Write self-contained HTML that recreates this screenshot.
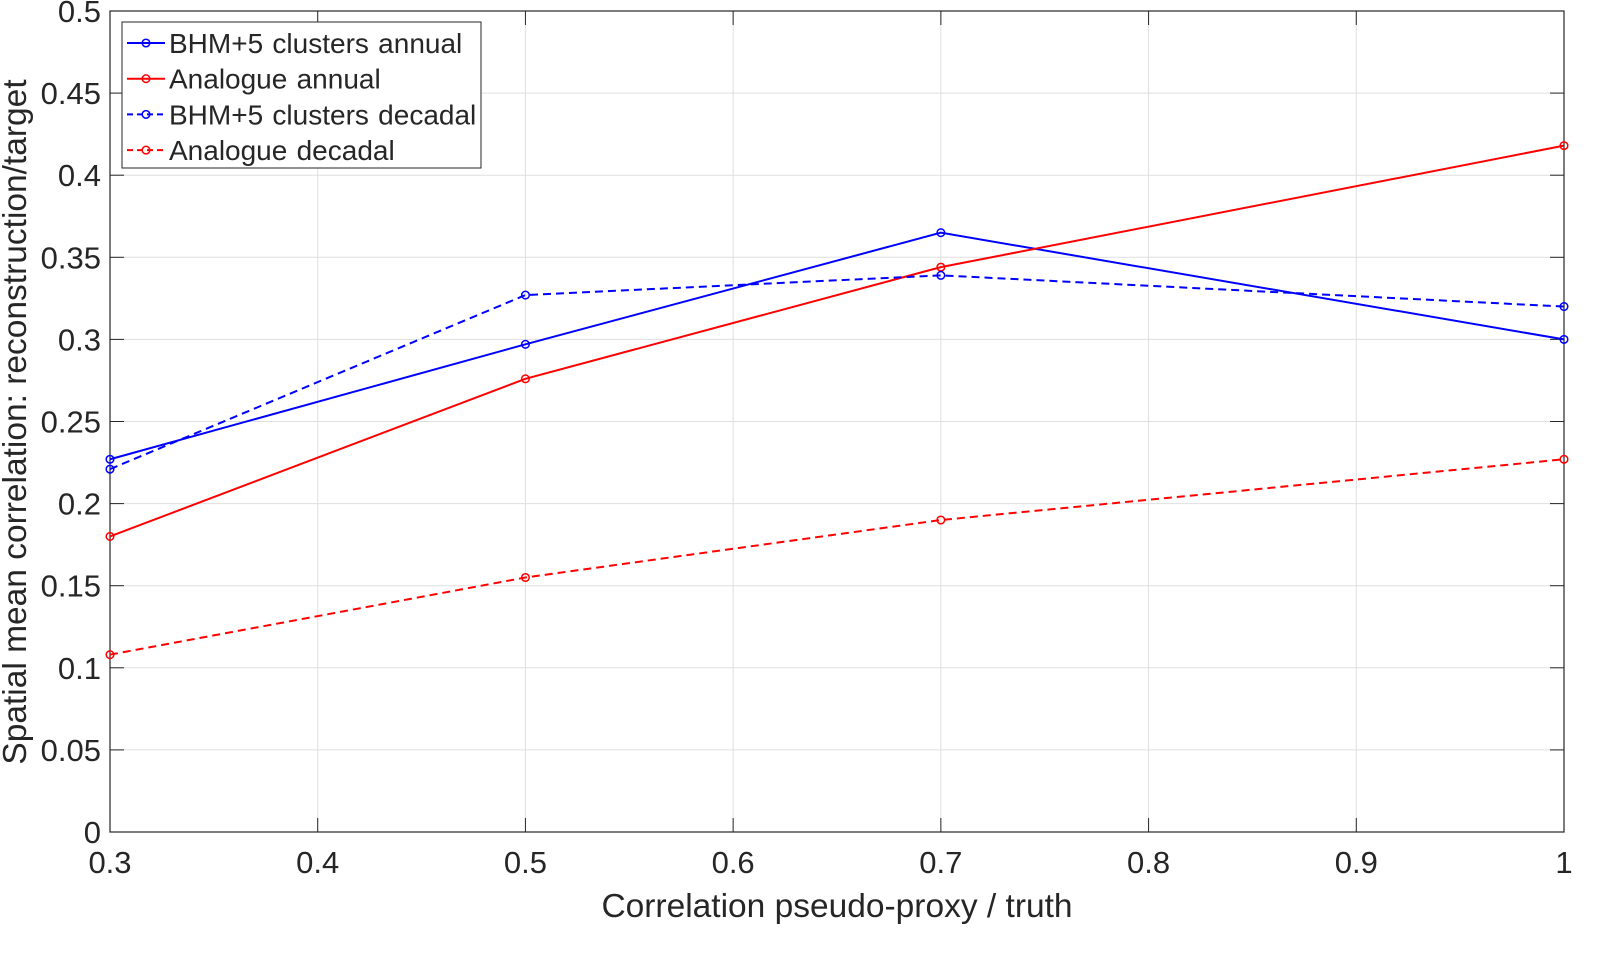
<!DOCTYPE html>
<html><head><meta charset="utf-8"><style>
body{margin:0;background:#fff}
svg text{font-family:"Liberation Sans",Arial,sans-serif;fill:#262626}
</style></head><body>
<svg id="c" width="1608" height="948" xmlns="http://www.w3.org/2000/svg"></svg>
<script>
const xValues=[0.3,0.5,0.7,1.0];
const bhmAnnual=[0.227,0.297,0.365,0.300];
const analogueAnnual=[0.180,0.276,0.344,0.418];
const bhmDecadal=[0.221,0.327,0.339,0.320];
const analogueDecadal=[0.108,0.155,0.190,0.227];
const xTicks=[0.3,0.4,0.5,0.6,0.7,0.8,0.9,1];
const xTickLabels=["0.3","0.4","0.5","0.6","0.7","0.8","0.9","1"];
const yTicks=[0,0.05,0.1,0.15,0.2,0.25,0.3,0.35,0.4,0.45,0.5];
const yTickLabels=["0","0.05","0.1","0.15","0.2","0.25","0.3","0.35","0.4","0.45","0.5"];
const seriesNames=["BHM+5 clusters annual","Analogue annual","BHM+5 clusters decadal","Analogue decadal"];

const L=110,R=1564,T=11,B=832;
const sx=v=>L+(v-0.3)/0.7*(R-L);
const sy=v=>B-v/0.5*(B-T);
const svg=document.getElementById('c');
const NS='http://www.w3.org/2000/svg';
function mk(tag,attrs,parent){const e=document.createElementNS(NS,tag);for(const k in attrs)e.setAttribute(k,attrs[k]);(parent||svg).appendChild(e);return e;}

const grid=mk('g',{});


xTicks.forEach((t,i)=>{
  mk('line',{x1:sx(t),x2:sx(t),y1:T,y2:B,stroke:'#dfdfdf','stroke-width':1},grid);
  mk('line',{x1:sx(t),x2:sx(t),y1:B,y2:B-14,stroke:'#262626','stroke-width':1},grid);
  mk('line',{x1:sx(t),x2:sx(t),y1:T,y2:T+14,stroke:'#262626','stroke-width':1},grid);
  const tx=mk('text',{x:sx(t),y:873,'font-size':31,'text-anchor':'middle'});
  
  
  tx.textContent=xTickLabels[i];
});
yTicks.forEach((t,i)=>{
  mk('line',{x1:L,x2:R,y1:sy(t),y2:sy(t),stroke:'#dfdfdf','stroke-width':1},grid);
  mk('line',{x1:L,x2:L+14,y1:sy(t),y2:sy(t),stroke:'#262626','stroke-width':1},grid);
  mk('line',{x1:R,x2:R-14,y1:sy(t),y2:sy(t),stroke:'#262626','stroke-width':1},grid);
  const tx=mk('text',{x:101,y:sy(t)+11,'font-size':31,'text-anchor':'end'});
  
  
  tx.textContent=yTickLabels[i];
});
const frame=mk('rect',{x:L,y:T,width:R-L,height:B-T,fill:'none',stroke:'#262626','stroke-width':1.2});



const series=[[bhmAnnual,'#0000ff',''],[analogueAnnual,'#ff0000',''],[bhmDecadal,'#0000ff','8,5'],[analogueDecadal,'#ff0000','8,5']];
const snames=['series-bhm-annual','series-analogue-annual','series-bhm-decadal','series-analogue-decadal'];
series.forEach((s,k)=>{
  const g=mk('g',{});
  
  
  const pts=s[0].map((v,i)=>sx(xValues[i])+','+sy(v)).join(' ');
  mk('polyline',{points:pts,fill:'none',stroke:s[1],'stroke-width':2,'stroke-dasharray':s[2]},g);
  s[0].forEach((v,i)=>{
    const c=mk('circle',{cx:sx(xValues[i]),cy:sy(v),r:3.8,fill:'none',stroke:s[1],'stroke-width':1.5},g);
    
    
  });
});

const lg=mk('g',{});


mk('rect',{x:122,y:22,width:359,height:146,fill:'#fff',stroke:'#262626','stroke-width':1},lg);
series.forEach((s,k)=>{
  const y=43+k*35.7;
  const e=mk('g',{},lg);
  
  
  mk('line',{x1:127,x2:165,y1:y,y2:y,stroke:s[1],'stroke-width':2,'stroke-dasharray':s[2]?'6,4':''},e);
  mk('circle',{cx:146,cy:y,r:3.8,fill:'none',stroke:s[1],'stroke-width':1.5},e);
  const t=mk('text',{x:169,y:y+10,'font-size':28,'word-spacing':1.5},e);
  t.textContent=seriesNames[k];
});

const xt=mk('text',{x:(L+R)/2,y:917,'font-size':33.5,'text-anchor':'middle'});


xt.textContent='Correlation pseudo-proxy / truth';
const yt=mk('text',{x:0,y:0,'font-size':33.5,'text-anchor':'middle',transform:'translate(26,422) rotate(-90)'});


yt.textContent='Spatial mean correlation: reconstruction/target';
</script>
</body></html>
